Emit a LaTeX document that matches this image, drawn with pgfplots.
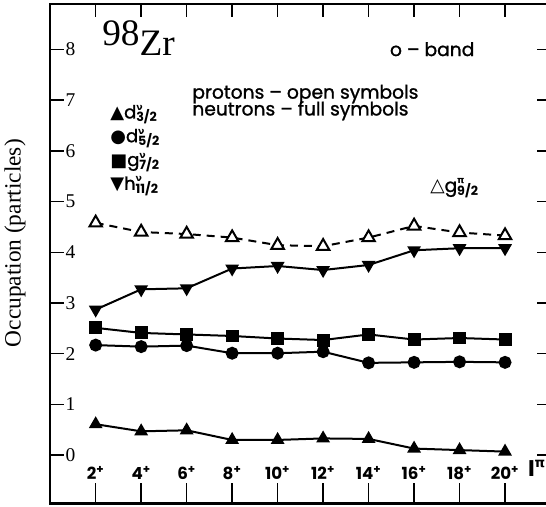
\documentclass[border=0pt]{standalone}
\usepackage{pgfplots}
\pgfplotsset{compat=1.18}
\usepackage{fontspec}
\setmainfont{Liberation Serif}
\newfontfamily\avant[FakeBold=1.2]{Poppins}
\newfontfamily\avantb{Poppins}
\newfontfamily\dv{DejaVu Sans}
\newcommand{\lab}[3]{#1\rlap{\smash{\raisebox{6pt}{\dv\bfseries\fontsize{7}{7}\selectfont #2}}}\smash{\raisebox{-2.5pt}{\avantb\bfseries\fontsize{9.5}{9.5}\selectfont #3}}}
\begin{document}
\begin{tikzpicture}
\begin{axis}[
  scale only axis, width=375.2pt, height=374.6pt,
  xmin=0, xmax=22, ymin=-0.95, ymax=8.9,
  clip=false,
  axis line style={line width=1.9pt},
  xtick={2,4,...,20},
  xticklabels={2\textsuperscript{+},4\textsuperscript{+},6\textsuperscript{+},8\textsuperscript{+},10\textsuperscript{+},12\textsuperscript{+},14\textsuperscript{+},16\textsuperscript{+},18\textsuperscript{+},20\textsuperscript{+}},
  ytick={0,...,8},
  tick align=inside,
  major tick length=10pt,
  tick style={line width=1.1pt, black},
  extra x ticks={2,4,...,20},
  extra x tick labels={},
  extra x tick style={xtick pos=bottom, major tick length=15pt},
  /pgf/number format/assume math mode=true,
  yticklabel style={anchor=west, xshift=8pt, font=\fontsize{14.6}{14.6}\selectfont},
  xticklabel style={anchor=south, yshift=14.5pt, font=\avantb\bfseries\fontsize{12.5}{12.5}\selectfont},
]
\addplot[line width=1.5pt, mark=triangle*, mark size=4.5pt] coordinates {
(2,0.61) (4,0.47) (6,0.49) (8,0.30) (10,0.30) (12,0.33) (14,0.32) (16,0.13) (18,0.10) (20,0.07)};
\addplot[line width=1.5pt, mark=*, mark size=4.1pt] coordinates {
(2,2.17) (4,2.14) (6,2.16) (8,2.01) (10,2.01) (12,2.04) (14,1.82) (16,1.83) (18,1.84) (20,1.83)};
\addplot[line width=1.5pt, mark=square*, mark size=4.1pt] coordinates {
(2,2.51) (4,2.41) (6,2.38) (8,2.35) (10,2.30) (12,2.27) (14,2.38) (16,2.28) (18,2.31) (20,2.28)};
\addplot[line width=1.5pt, mark=triangle*, mark size=4.5pt, mark options={rotate=180}] coordinates {
(2,2.87) (4,3.27) (6,3.29) (8,3.68) (10,3.73) (12,3.65) (14,3.75) (16,4.04) (18,4.08) (20,4.08)};
\addplot[line width=1.5pt, dash pattern=on 6pt off 4.5pt, mark=triangle*, mark size=5.4pt, mark options={solid, fill=white, line width=1.5pt}] coordinates {
(2,4.58) (4,4.40) (6,4.36) (8,4.29) (10,4.14) (12,4.12) (14,4.29) (16,4.52) (18,4.39) (20,4.33)};

\node[anchor=base west, inner sep=0, font=\fontsize{28}{28}\selectfont] at (axis cs:2.28,7.89) {\raisebox{7.5pt}{98}Zr};
\node[anchor=base west, inner sep=0, font=\avant\fontsize{14}{14}\selectfont] at (axis cs:14.93,7.87) {o – band};
\node[anchor=base west, inner sep=0, font=\avant\fontsize{14}{15}\selectfont] at (axis cs:6.24,7.03) {\begin{tabular}[t]{@{}l@{}}protons – open symbols\\[-2.6pt]neutrons – full symbols\end{tabular}};
\node[anchor=base west, inner sep=0, font=\avant\fontsize{13.5}{17.85}\selectfont] at (axis cs:2.63,6.64) {\begin{tabular}[t]{@{}l@{}}
{\dv ▲}\lab{d}{ν}{3/2}\\
{\dv ●}\lab{d}{ν}{5/2}\\
{\dv ■}\lab{g}{ν}{7/2}\\
{\dv ▼}\lab{h}{ν}{11/2}
\end{tabular}};
\node[anchor=base west, inner sep=0, font=\avant\fontsize{14}{14}\selectfont] at (axis cs:16.7,5.19) {{\dv △}\lab{g}{π}{9/2}};
\node[anchor=base west, inner sep=0] at (axis cs:21.0,-0.43) {\avantb\bfseries\fontsize{17}{17}\selectfont I\raisebox{7pt}{\dv\bfseries\fontsize{10}{10}\selectfont π}};
\node[rotate=90, font=\fontsize{17.5}{17.5}\selectfont] at (axis cs:-1.55,4.18) {Occupation (particles)};
\coordinate (SW) at (rel axis cs:0,0);
\coordinate (NE) at (rel axis cs:1,1);
\end{axis}
\pgfresetboundingbox
\path[use as bounding box] ([xshift=-37.65pt,yshift=-2.1pt]SW) rectangle ([xshift=-3.4pt,yshift=2.85pt]NE);
\end{tikzpicture}
\end{document}
